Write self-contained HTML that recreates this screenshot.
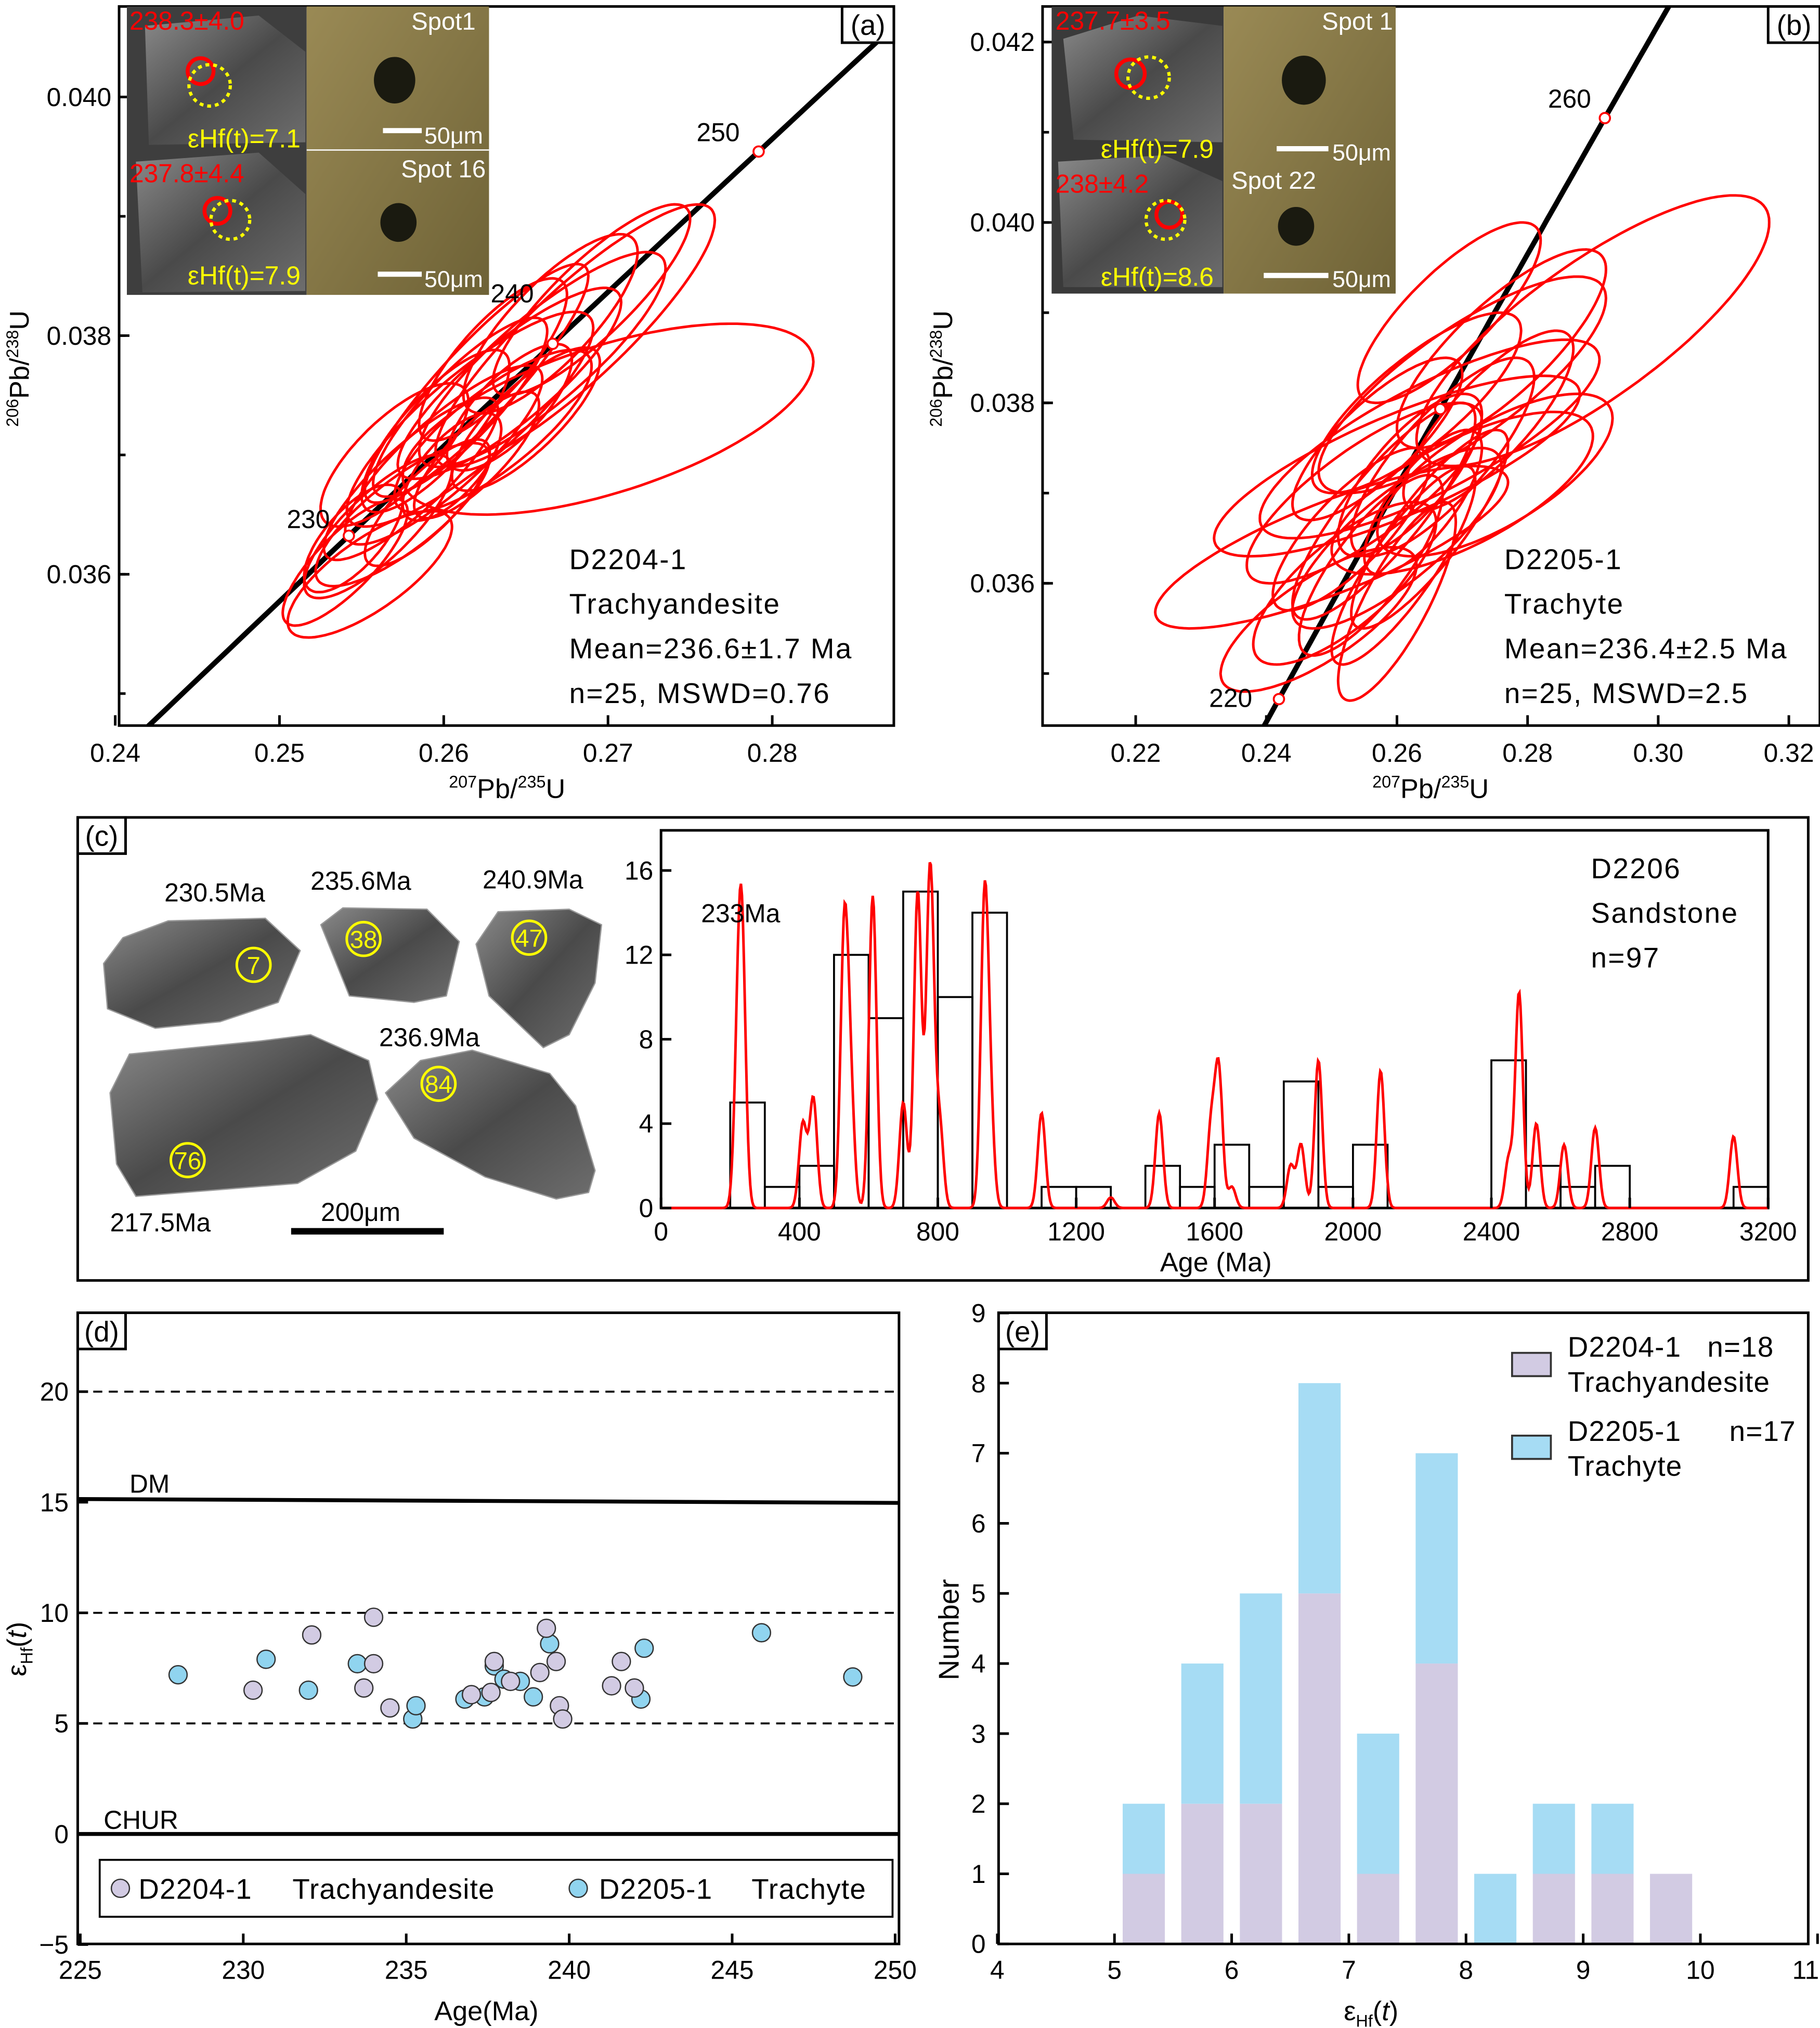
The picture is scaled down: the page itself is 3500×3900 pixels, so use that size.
<!DOCTYPE html>
<html><head><meta charset="utf-8"><style>
html,body{margin:0;padding:0;background:#fff}
svg{display:block}
text{font-family:"Liberation Sans",sans-serif;fill:#000}
</style></head><body>
<svg id="root" xmlns="http://www.w3.org/2000/svg" width="3500" height="3900" viewBox="0 0 1407 1568">
<defs>
<clipPath id="clipA"><rect x="92" y="5" width="599" height="556"/></clipPath>
<clipPath id="clipB"><rect x="806" y="5" width="601" height="556"/></clipPath>
<linearGradient id="zg" x1="0" y1="0" x2="1" y2="1"><stop offset="0" stop-color="#8a8a8a"/><stop offset="0.5" stop-color="#4a4a4a"/><stop offset="1" stop-color="#6e6e6e"/></linearGradient>
<linearGradient id="og" x1="0" y1="0" x2="1" y2="1"><stop offset="0" stop-color="#9a8a55"/><stop offset="1" stop-color="#6e6236"/></linearGradient>
</defs>
<rect width="1407" height="1568" fill="#fff"/>
<g id="gA"></g>
<g id="gB"></g>
<g id="gC"></g>
<g id="gD"></g>
<g id="gE"></g>
</svg>
<script>
const NS="http://www.w3.org/2000/svg";
function mk(p,tag,at,txt){const e=document.createElementNS(NS,tag);for(const k in at)e.setAttribute(k,at[k]);if(txt!==undefined)e.textContent=txt;p.appendChild(e);return e;}

// ---------- DATA ----------
const aCx=[0.2616,0.2600,0.2640,0.2580,0.2560,0.2540,0.2555,0.2620,0.2660,0.2680,0.2700,0.2630,0.2610,0.2595,0.2650,0.2570,0.2605,0.2630,0.2665,0.2590,0.2620,0.2545,0.2690,0.2575,0.2640];
const aCy=[0.03730,0.03700,0.03760,0.03680,0.03640,0.03610,0.03600,0.03760,0.03780,0.03800,0.03730,0.03720,0.03740,0.03720,0.03730,0.03700,0.03690,0.03780,0.03810,0.03660,0.03700,0.03630,0.03830,0.03650,0.03740];
const aEx=[0.0075,0.006,0.0068,0.0053,0.0045,0.0038,0.005,0.0068,0.0075,0.0085,0.0125,0.006,0.0053,0.0045,0.0045,0.0045,0.003,0.0045,0.0053,0.0038,0.0038,0.003,0.006,0.0053,0.0038];
const aEy=[0.0009,0.00075,0.0008,0.00068,0.0006,0.00053,0.00053,0.001,0.0009,0.0011,0.0008,0.00068,0.00075,0.00068,0.0006,0.0006,0.00045,0.00068,0.00075,0.00053,0.00053,0.00045,0.0008,0.0006,0.00053];
const aRho=[0.85,0.85,0.85,0.85,0.8,0.8,0.75,0.9,0.85,0.88,0.6,0.8,0.85,0.8,0.8,0.75,0.7,0.8,0.8,0.8,0.8,0.7,0.85,0.8,0.75];
const bCx=[0.2600,0.2500,0.2900,0.2700,0.2650,0.2550,0.2600,0.2520,0.2700,0.2750,0.2580,0.2630,0.2680,0.2620,0.2560,0.2650,0.2480,0.2600,0.2740,0.2570,0.2640,0.2530,0.2760,0.2610,0.2670];
const bCy=[0.03730,0.03640,0.03880,0.03820,0.03760,0.03700,0.03650,0.03600,0.03700,0.03720,0.03680,0.03800,0.03900,0.03720,0.03620,0.03660,0.03560,0.03580,0.03780,0.03760,0.03690,0.03660,0.03860,0.03620,0.03740];
const bEx=[0.028,0.027,0.027,0.022,0.026,0.018,0.016,0.014,0.020,0.018,0.014,0.016,0.014,0.011,0.011,0.012,0.015,0.009,0.013,0.013,0.009,0.012,0.016,0.011,0.014];
const bEy=[0.0010,0.0009,0.0015,0.0012,0.0011,0.0010,0.0010,0.0009,0.0009,0.0009,0.0012,0.0010,0.0010,0.0009,0.0010,0.0011,0.0008,0.0011,0.0010,0.0009,0.0008,0.0009,0.0011,0.0011,0.0011];
const bRho=[0.8,0.8,0.8,0.8,0.8,0.8,0.8,0.75,0.7,0.7,0.85,0.8,0.8,0.75,0.8,0.85,0.75,0.8,0.8,0.8,0.75,0.8,0.8,0.85,0.8];
const aAgeMarks=[230,240,250];
const bAgeMarks=[220,240,260];
const aXTicks=[0.24,0.25,0.26,0.27,0.28];
const aYTicks=[0.036,0.038,0.040];
const bXTicks=[0.22,0.24,0.26,0.28,0.30,0.32];
const bYTicks=[0.036,0.038,0.040,0.042];
// panel c
const histStart=[200,300,400,500,600,700,800,900,1100,1200,1400,1500,1600,1700,1800,1900,2000,2400,2500,2600,2700,3100];
const histCount=[5,1,2,12,9,15,10,14,1,1,2,1,3,1,6,1,3,7,2,1,2,1];
const peakAges=[222,234,410,440,530,548,612,700,742,778,805,935,952,1100,1300,1440,1590,1612,1650,1820,1850,1900,2080,2450,2480,2530,2610,2700,3100];
const peakHeights=[6,11.5,4,5.2,13,5,14.8,5,15,16.2,4,14.2,4,4.5,0.5,4.5,3.8,6.5,1,2,3,7,6.5,2.3,10.2,4,3,3.8,3.4];
const cXTicks=[0,400,800,1200,1600,2000,2400,2800,3200];
const cYTicks=[0,4,8,12,16];
// panel d
const d1Age=[230.3,232.1,233.7,234,234,234.5,237,237.6,237.7,238.2,239.1,239.3,239.6,239.7,239.8,241.3,241.6,242];
const d1Hf=[6.5,9.0,6.6,7.7,9.8,5.7,6.3,6.4,7.8,6.9,7.3,9.3,7.8,5.8,5.2,6.7,7.8,6.6];
const d2Age=[228,230.7,232,233.5,235.2,235.3,236.8,237.7,238,238.9,239.4,242.2,242.3,245.9,248.7,238.5,237.4];
const d2Hf=[7.2,7.9,6.5,7.7,5.2,5.8,6.1,7.6,7.0,6.2,8.6,6.1,8.4,9.1,7.1,6.9,6.2];
const dXTicks=[225,230,235,240,245,250];
const dYTicks=[-5,0,5,10,15,20];
// panel e
const eBin=[5.25,5.75,6.25,6.75,7.25,7.75,8.25,8.75,9.25,9.75];
const eD1=[1,2,2,5,1,4,0,1,1,1];
const eD2=[1,2,3,3,2,3,1,1,1,0];
const eXTicks=[4,5,6,7,8,9,10,11];
const eYTicks=[0,1,2,3,4,5,6,7,8,9];

function frame(g,x,y,w,h,name){const r=mk(g,'rect',{x:x,y:y,width:w,height:h,fill:'none',stroke:'#000','stroke-width':2});return r;}
function label(g,x,y,w,t,name){const r=mk(g,'rect',{x:x,y:y,width:w,height:28,fill:'#fff',stroke:'#000','stroke-width':2});const tx=mk(g,'text',{x:x+w/2,y:y+22,'font-size':22,'text-anchor':'middle'},t);}
function txt(g,x,y,s,t,name,extra){const a={x:x,y:y,'font-size':s};if(extra)for(const k in extra)a[k]=extra[k];const e=mk(g,'text',a,t);return e;}
function ell(g,sx,sy,cx,cy,ex,ey,rho,clip){let d='';const s=Math.sqrt(1-rho*rho);for(let i=0;i<=120;i++){const t=i/120*2*Math.PI;const x=cx+ex*Math.cos(t),y=cy+ey*(rho*Math.cos(t)+s*Math.sin(t));d+=(i?'L':'M')+sx(x).toFixed(1)+' '+sy(y).toFixed(1);}const p=mk(g,'path',{d:d+'Z',fill:'none',stroke:'#f00','stroke-width':2,'clip-path':clip});return p;}
const L238=1.55125e-4,L235=9.8485e-4;
function conc(t){return [Math.exp(L235*t)-1,Math.exp(L238*t)-1];}

function concPanel(g,X0,X1,Y0,Y1,sx,sy,cx,cy,ex,ey,rho,marks,xt,yt,clip,pfx,markLbl){
  let d='';for(let t=180;t<=300;t+=1){const c=conc(t);d+=(t>180?'L':'M')+sx(c[0]).toFixed(1)+' '+sy(c[1]).toFixed(1);}
  const cl=mk(g,'path',{d:d,fill:'none',stroke:'#000','stroke-width':4,'clip-path':clip});
  
  
  for(let i=0;i<cx.length;i++){const p=ell(g,sx,sy,cx[i],cy[i],ex[i],ey[i],rho[i],clip);
    
    }
  marks.forEach((m,i)=>{const c=conc(m);const ci=mk(g,'circle',{cx:sx(c[0]),cy:sy(c[1]),r:4,fill:'#fff',stroke:'#f00','stroke-width':1.5});
    
    
    if(markLbl[i])txt(g,sx(c[0])+markLbl[i][0],sy(c[1])+markLbl[i][1],20,String(m),'age-label-'+m);});
  frame(g,X0,Y0,X1-X0,Y1-Y0,pfx+'-plot-frame');
  xt.forEach(v=>{const x=sx(v);mk(g,'line',{x1:x,y1:Y1,x2:x,y2:Y1-8,stroke:'#000','stroke-width':2});txt(g,x,Y1+28,20,v.toFixed(2),pfx+'-x-tick',{'text-anchor':'middle'});});
  yt.forEach(v=>{const y=sy(v);mk(g,'line',{x1:X0,y1:y,x2:X0+8,y2:y,stroke:'#000','stroke-width':2});txt(g,X0-6,y+7,20,v.toFixed(3),pfx+'-y-tick',{'text-anchor':'end'});});
  const step=(yt[1]-yt[0])/2;for(let v=yt[0]-step;v<yt[yt.length-1]+step*2;v+=step){const y=sy(v);if(y>Y0+2&&y<Y1-2)mk(g,'line',{x1:X0,y1:y,x2:X0+5,y2:y,stroke:'#000','stroke-width':2});}
}

// ---- Panel A ----
(function(){const g=document.getElementById('gA');
const sx=v=>89+(v-0.24)*12700, sy=v=>75+(0.040-v)*92250;
concPanel(g,92,691,5,561,sx,sy,aCx,aCy,aEx,aEy,aRho,aAgeMarks,aXTicks,aYTicks,'url(#clipA)','a',[[-48,-6],[-48,-32],[-48,-8]]);
const ins=mk(g,'g',{});
mk(ins,'rect',{x:98,y:5,width:139,height:223,fill:'#3e3e3e'});
mk(ins,'polygon',{points:'112,20 200,12 236,40 236,110 115,112',fill:'url(#zg)'});
mk(ins,'polygon',{points:'105,125 200,118 236,150 236,225 110,226',fill:'url(#zg)'});
mk(ins,'rect',{x:237,y:5,width:141,height:223,fill:'url(#og)'});
mk(ins,'ellipse',{cx:305,cy:62,rx:16,ry:18,fill:'#1a1a10'});
mk(ins,'ellipse',{cx:308,cy:172,rx:14,ry:15,fill:'#1a1a10'});
mk(ins,'line',{x1:237,y1:116,x2:378,y2:116,stroke:'#fff','stroke-width':1});
mk(ins,'circle',{cx:155,cy:55,r:10,fill:'none',stroke:'#f00','stroke-width':3});
mk(ins,'circle',{cx:162,cy:66,r:16,fill:'none',stroke:'#ff0','stroke-width':2.5,'stroke-dasharray':'3 3'});
mk(ins,'circle',{cx:168,cy:163,r:10,fill:'none',stroke:'#f00','stroke-width':3});
mk(ins,'circle',{cx:178,cy:170,r:15,fill:'none',stroke:'#ff0','stroke-width':2.5,'stroke-dasharray':'3 3'});
txt(ins,100,23,20,'238.3±4.0','inset-age-1',{style:'fill:#f00'});
txt(ins,318,23,19,'Spot1','inset-spot-1',{style:'fill:#fff'});
txt(ins,145,114,20,'εHf(t)=7.1','inset-ehf-1',{style:'fill:#ff0'});
mk(ins,'line',{x1:296,y1:101,x2:326,y2:101,stroke:'#fff','stroke-width':4});
txt(ins,328,111,18,'50μm','inset-scale-1',{style:'fill:#fff'});
txt(ins,100,141,20,'237.8±4.4','inset-age-2',{style:'fill:#f00'});
txt(ins,310,137,19,'Spot 16','inset-spot-2',{style:'fill:#fff'});
txt(ins,145,220,20,'εHf(t)=7.9','inset-ehf-2',{style:'fill:#ff0'});
mk(ins,'line',{x1:292,y1:212,x2:326,y2:212,stroke:'#fff','stroke-width':4});
txt(ins,328,222,18,'50μm','inset-scale-2',{style:'fill:#fff'});
['D2204-1','Trachyandesite','Mean=236.6±1.7 Ma','n=25, MSWD=0.76'].forEach((t,i)=>txt(g,440,440+i*34.5,22,t,'sample-info-a',{'letter-spacing':1}));
label(g,651,5,40,'(a)','panel-label-a');
txt(g,392,617,21,'','x-axis-title-a',{'text-anchor':'middle'}).innerHTML='<tspan font-size="13" dy="-8">207</tspan><tspan dy="8">Pb/</tspan><tspan font-size="13" dy="-8">235</tspan><tspan dy="8">U</tspan>';
txt(g,0,0,21,'','y-axis-title-a',{'text-anchor':'middle',transform:'translate(22,285) rotate(-90)'}).innerHTML='<tspan font-size="13" dy="-8">206</tspan><tspan dy="8">Pb/</tspan><tspan font-size="13" dy="-8">238</tspan><tspan dy="8">U</tspan>';
})();

// ---- Panel B ----
(function(){const g=document.getElementById('gB');
const sx=v=>878+(v-0.22)*5050, sy=v=>172+(0.040-v)*69750;
concPanel(g,806,1407,5,561,sx,sy,bCx,bCy,bEx,bEy,bRho,bAgeMarks,bXTicks,bYTicks,'url(#clipB)','b',[[-54,6],null,[-44,-8]]);
const ins=mk(g,'g',{});
mk(ins,'rect',{x:813,y:5,width:133,height:222,fill:'#3a3a3a'});
mk(ins,'polygon',{points:'822,30 880,12 945,20 945,110 830,108',fill:'url(#zg)'});
mk(ins,'polygon',{points:'818,125 900,120 945,140 945,222 822,222',fill:'url(#zg)'});
mk(ins,'rect',{x:946,y:5,width:133,height:222,fill:'url(#og)'});
mk(ins,'ellipse',{cx:1008,cy:62,rx:17,ry:19,fill:'#1a1a10'});
mk(ins,'ellipse',{cx:1002,cy:175,rx:14,ry:15,fill:'#1a1a10'});
mk(ins,'circle',{cx:874,cy:57,r:11,fill:'none',stroke:'#f00','stroke-width':3});
mk(ins,'circle',{cx:888,cy:60,r:16,fill:'none',stroke:'#ff0','stroke-width':2.5,'stroke-dasharray':'3 3'});
mk(ins,'circle',{cx:904,cy:166,r:10,fill:'none',stroke:'#f00','stroke-width':3});
mk(ins,'circle',{cx:901,cy:170,r:15,fill:'none',stroke:'#ff0','stroke-width':2.5,'stroke-dasharray':'3 3'});
txt(ins,816,23,20,'237.7±3.5','inset-age-b1',{style:'fill:#f00'});
txt(ins,1022,23,19,'Spot 1','inset-spot-b1',{style:'fill:#fff'});
txt(ins,851,122,20,'εHf(t)=7.9','inset-ehf-b1',{style:'fill:#ff0'});
mk(ins,'line',{x1:987,y1:115,x2:1027,y2:115,stroke:'#fff','stroke-width':4});
txt(ins,1030,124,18,'50μm','inset-scale-b1',{style:'fill:#fff'});
txt(ins,816,149,20,'238±4.2','inset-age-b2',{style:'fill:#f00'});
txt(ins,952,146,19,'Spot 22','inset-spot-b2',{style:'fill:#fff'});
txt(ins,851,221,20,'εHf(t)=8.6','inset-ehf-b2',{style:'fill:#ff0'});
mk(ins,'line',{x1:977,y1:213,x2:1027,y2:213,stroke:'#fff','stroke-width':4});
txt(ins,1030,222,18,'50μm','inset-scale-b2',{style:'fill:#fff'});
['D2205-1','Trachyte','Mean=236.4±2.5 Ma','n=25, MSWD=2.5'].forEach((t,i)=>txt(g,1163,440+i*34.5,22,t,'sample-info-b',{'letter-spacing':1}));
label(g,1367,5,40,'(b)','panel-label-b');
txt(g,1106,617,21,'','x-axis-title-b',{'text-anchor':'middle'}).innerHTML='<tspan font-size="13" dy="-8">207</tspan><tspan dy="8">Pb/</tspan><tspan font-size="13" dy="-8">235</tspan><tspan dy="8">U</tspan>';
txt(g,0,0,21,'','y-axis-title-b',{'text-anchor':'middle',transform:'translate(736,285) rotate(-90)'}).innerHTML='<tspan font-size="13" dy="-8">206</tspan><tspan dy="8">Pb/</tspan><tspan font-size="13" dy="-8">238</tspan><tspan dy="8">U</tspan>';
})();

// ---- Panel C ----
(function(){const g=document.getElementById('gC');
frame(g,60,632,1338,358,'panel-c-frame');
label(g,60,632,37,'(c)','panel-label-c');
const sx=v=>511+v*0.2675, sy=v=>934-v*16.31;
const zs=[['80,745 95,725 130,712 205,710 232,735 215,775 170,790 120,795 83,780',196,746,'7'],
['248,715 265,702 330,703 355,728 345,770 320,775 270,770 258,740',281,726,'38'],
['368,730 385,705 440,703 465,715 460,760 440,800 420,810 378,770',409,725,'47'],
['85,845 100,815 200,805 240,800 285,820 292,850 275,890 230,915 105,925 90,900',145,897,'76'],
['298,845 325,820 365,812 425,830 445,855 460,905 455,922 430,927 375,910 320,880',339,838,'84']];
zs.forEach((z,i)=>{const p=mk(g,'polygon',{points:z[0],fill:'url(#zg)',stroke:'#999','stroke-width':1});


mk(g,'circle',{cx:z[1],cy:z[2],r:13,fill:'none',stroke:'#ff0','stroke-width':2});
txt(g,z[1],z[2]+7,19,z[3],'spot-number',{'text-anchor':'middle',style:'fill:#ff0'});});
[[127,697,'230.5Ma'],[240,688,'235.6Ma'],[373,687,'240.9Ma'],[293,809,'236.9Ma'],[85,952,'217.5Ma']].forEach(a=>txt(g,a[0],a[1],20,a[2],'grain-age-label'));
mk(g,'line',{x1:225,y1:952,x2:343,y2:952,stroke:'#000','stroke-width':5});
txt(g,248,944,20,'200μm','scale-bar-label');
frame(g,511,642,856,292,'histogram-frame');
histStart.forEach((s,i)=>{const r=mk(g,'rect',{x:sx(s),y:sy(histCount[i]),width:sx(s+100)-sx(s),height:sy(0)-sy(histCount[i]),fill:'none',stroke:'#000','stroke-width':1.5});

});
let d='';const sg=11;for(let a=0;a<=3200;a+=3){let y=0;for(let k=0;k<peakAges.length;k++){const z=(a-peakAges[k])/sg;y+=peakHeights[k]*Math.exp(-0.5*z*z);}d+=(a?'L':'M')+sx(a).toFixed(1)+' '+sy(y).toFixed(1);}
const kd=mk(g,'path',{d:d,fill:'none',stroke:'#f00','stroke-width':2});


cXTicks.forEach(v=>{mk(g,'line',{x1:sx(v),y1:934,x2:sx(v),y2:926,stroke:'#000','stroke-width':2});txt(g,sx(v),959,20,String(v),'c-x-tick',{'text-anchor':'middle'});});
cYTicks.forEach(v=>{mk(g,'line',{x1:511,y1:sy(v),x2:519,y2:sy(v),stroke:'#000','stroke-width':2});txt(g,505,sy(v)+7,20,String(v),'c-y-tick',{'text-anchor':'end'});});
txt(g,940,983,21,'Age (Ma)','c-x-axis-title',{'text-anchor':'middle'});
txt(g,542,713,20,'233Ma','peak-label-233');
['D2206','Sandstone','n=97'].forEach((t,i)=>txt(g,1230,679+i*34.5,22,t,'sample-info-c',{'letter-spacing':1}));
})();

// ---- Panel D ----
(function(){const g=document.getElementById('gD');
const sx=v=>62+(v-225)*25.2, sy=v=>1418-v*17.1;
[20,10,5].forEach(v=>{const l=mk(g,'line',{x1:60,y1:sy(v),x2:695,y2:sy(v),stroke:'#000','stroke-width':1.5,'stroke-dasharray':'7 5'});

});
const dm=mk(g,'line',{x1:60,y1:1159,x2:695,y2:1162,stroke:'#000','stroke-width':3});


const ch=mk(g,'line',{x1:60,y1:sy(0),x2:695,y2:sy(0),stroke:'#000','stroke-width':3});


txt(g,100,1154,20,'DM','dm-label');txt(g,80,1414,20,'CHUR','chur-label');
d2Age.forEach((a,i)=>{const c=mk(g,'circle',{cx:sx(a),cy:sy(d2Hf[i]),r:7,fill:'#90d4ef',stroke:'#333','stroke-width':1});

});
d1Age.forEach((a,i)=>{const c=mk(g,'circle',{cx:sx(a),cy:sy(d1Hf[i]),r:7,fill:'#d2cbe3',stroke:'#333','stroke-width':1});

});
frame(g,60,1015,635,488,'panel-d-frame');
label(g,60,1015,37,'(d)','panel-label-d');
dXTicks.forEach(v=>{mk(g,'line',{x1:sx(v),y1:1503,x2:sx(v),y2:1495,stroke:'#000','stroke-width':2});txt(g,sx(v),1530,20,String(v),'d-x-tick',{'text-anchor':'middle'});});
dYTicks.forEach(v=>{mk(g,'line',{x1:60,y1:sy(v),x2:68,y2:sy(v),stroke:'#000','stroke-width':2});txt(g,53,sy(v)+7,20,v<0?'−'+(-v):String(v),'d-y-tick',{'text-anchor':'end'});});
const lg=mk(g,'rect',{x:77,y:1438,width:613,height:44,fill:'#fff',stroke:'#000','stroke-width':1.5});


mk(g,'circle',{cx:93,cy:1460,r:7,fill:'#d2cbe3',stroke:'#333'});
txt(g,107,1468,22,'D2204-1','legend-entry-d2204',{'letter-spacing':0.5});
txt(g,226,1468,22,'Trachyandesite','legend-entry-d2204-rock',{'letter-spacing':0.5});
mk(g,'circle',{cx:447,cy:1460,r:7,fill:'#90d4ef',stroke:'#333'});
txt(g,463,1468,22,'D2205-1','legend-entry-d2205',{'letter-spacing':0.5});
txt(g,581,1468,22,'Trachyte','legend-entry-d2205-rock',{'letter-spacing':0.5});
txt(g,376,1562,21,'Age(Ma)','d-x-axis-title',{'text-anchor':'middle'});
txt(g,0,0,21,'','d-y-axis-title',{'text-anchor':'middle',transform:'translate(20,1275) rotate(-90)'}).innerHTML='ε<tspan font-size="13" dy="5">Hf</tspan><tspan dy="-5">(</tspan><tspan font-style="italic">t</tspan>)';
})();

// ---- Panel E ----
(function(){const g=document.getElementById('gE');
const sx=v=>771+(v-4)*90.6, sy=v=>1503-v*54.2;
eBin.forEach((b,i)=>{const x=sx(b-0.18),w=sx(b+0.18)-sx(b-0.18);
if(eD1[i]>0){const r=mk(g,'rect',{x:x,y:sy(eD1[i]),width:w,height:sy(0)-sy(eD1[i]),fill:'#d2cbe3'});

}
if(eD2[i]>0){const r=mk(g,'rect',{x:x,y:sy(eD1[i]+eD2[i]),width:w,height:sy(eD1[i])-sy(eD1[i]+eD2[i]),fill:'#a6dcf4'});

}});
frame(g,772,1015,626,488,'panel-e-frame');
label(g,772,1015,37,'(e)','panel-label-e');
eXTicks.forEach(v=>{mk(g,'line',{x1:sx(v),y1:1503,x2:sx(v),y2:1495,stroke:'#000','stroke-width':2});txt(g,v===11?1396:sx(v),1530,20,String(v),'e-x-tick',{'text-anchor':'middle'});});
eYTicks.forEach(v=>{mk(g,'line',{x1:772,y1:sy(v),x2:780,y2:sy(v),stroke:'#000','stroke-width':2});txt(g,762,sy(v)+7,20,String(v),'e-y-tick',{'text-anchor':'end'});});
const l1=mk(g,'rect',{x:1169,y:1046,width:30,height:18,fill:'#d2cbe3',stroke:'#333','stroke-width':1.5});


txt(g,1212,1049,22,'D2204-1','legend-entry-d2204-e',{'letter-spacing':0.5});
txt(g,1320,1049,22,'n=18','legend-n-d2204',{'letter-spacing':0.5});
txt(g,1212,1076,22,'Trachyandesite','legend-entry-d2204-e2',{'letter-spacing':0.5});
const l2=mk(g,'rect',{x:1169,y:1110,width:30,height:18,fill:'#a6dcf4',stroke:'#333','stroke-width':1.5});


txt(g,1212,1114,22,'D2205-1','legend-entry-d2205-e',{'letter-spacing':0.5});
txt(g,1337,1114,22,'n=17','legend-n-d2205',{'letter-spacing':0.5});
txt(g,1212,1141,22,'Trachyte','legend-entry-d2205-e2',{'letter-spacing':0.5});
txt(g,0,0,22,'Number','e-y-axis-title',{'text-anchor':'middle',transform:'translate(741,1260) rotate(-90)'});
txt(g,1060,1562,21,'','e-x-axis-title',{'text-anchor':'middle'}).innerHTML='ε<tspan font-size="13" dy="5">Hf</tspan><tspan dy="-5">(</tspan><tspan font-style="italic">t</tspan>)';
})();
</script>
</body></html>
